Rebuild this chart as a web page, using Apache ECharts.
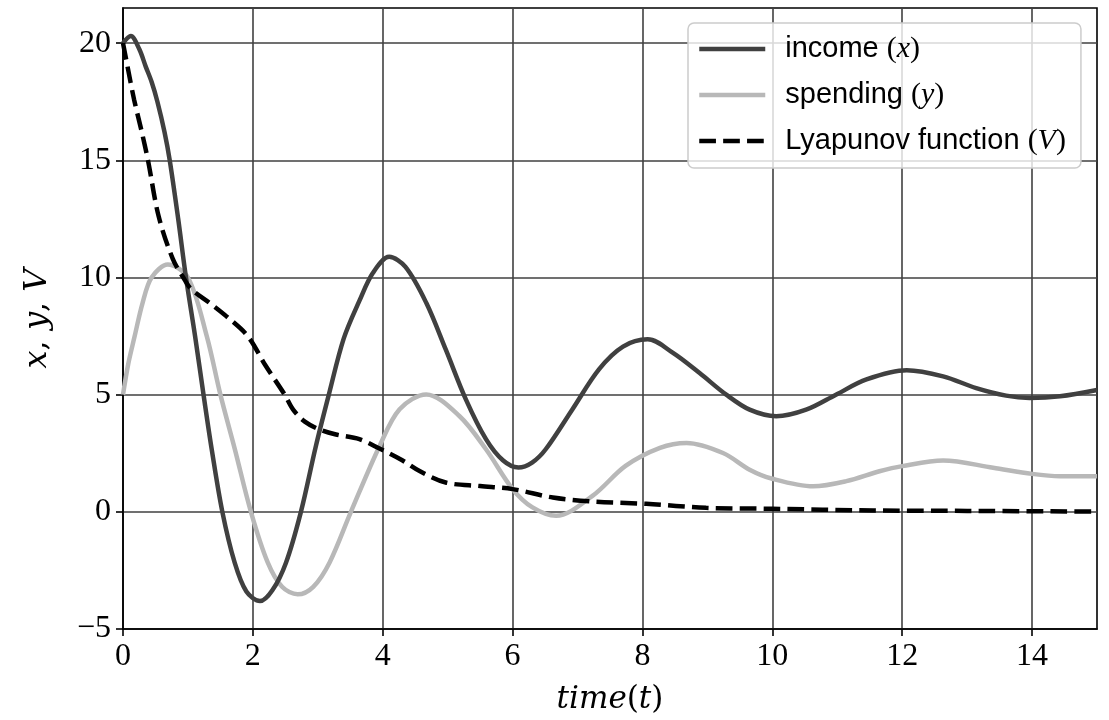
<!DOCTYPE html>
<html>
<head>
<meta charset="utf-8">
<script src="https://cdn.jsdelivr.net/npm/echarts@6/dist/echarts.min.js"></script>
<style>
html,body{margin:0;padding:0;background:#fff;}
#chart{width:1109px;height:720px;}
</style>
</head>
<body>
<div id="chart"></div>
<script>
// ---- data ----
var incomeT = [0, 0.12, 0.25, 0.35, 0.44, 0.53, 0.64, 0.72, 0.85, 0.97, 1.11, 1.24, 1.37, 1.53, 1.72, 1.9, 2.11, 2.3, 2.51, 2.74, 2.97, 3.17, 3.4, 3.64, 3.85, 4.1, 4.35, 4.67, 4.97, 5.28, 5.59, 5.85, 6.09, 6.3, 6.51, 6.92, 7.33, 7.7, 8.08, 8.47, 8.88, 9.29, 9.65, 10.06, 10.52, 10.98, 11.45, 12.07, 12.63, 13.14, 13.6, 13.96, 14.43, 15];
var incomeX = [20.0, 20.3, 19.75, 19.0, 18.35, 17.5, 16.2, 15.0, 12.5, 10.0, 7.5, 5.0, 2.6, 0.0, -2.17, -3.4, -3.81, -3.35, -2.17, 0.0, 2.8, 5.0, 7.4, 9.0, 10.2, 10.88, 10.45, 8.92, 6.93, 4.8, 3.1, 2.2, 1.89, 2.1, 2.67, 4.37, 6.08, 7.05, 7.36, 6.78, 5.92, 5.0, 4.36, 4.08, 4.36, 5.0, 5.65, 6.04, 5.78, 5.28, 4.96, 4.86, 4.93, 5.2];

var spendingT = [0, 0.08, 0.18, 0.3, 0.44, 0.69, 1.0, 1.29, 1.5, 1.72, 1.97, 2.23, 2.45, 2.69, 2.93, 3.18, 3.51, 3.95, 4.26, 4.67, 5.18, 5.59, 6.0, 6.3, 6.67, 7.23, 7.74, 8.27, 8.68, 9.24, 9.65, 10.0, 10.63, 11.14, 11.65, 12.0, 12.63, 13.4, 14.0, 14.43, 15];
var spendingY = [5.0, 6.3, 7.5, 8.9, 10.0, 10.55, 10.0, 7.5, 5.0, 2.7, 0.0, -2.17, -3.2, -3.52, -3.2, -2.17, 0.0, 2.8, 4.38, 5.01, 4.09, 2.67, 0.97, 0.2, -0.17, 0.68, 1.96, 2.73, 2.94, 2.51, 1.8, 1.41, 1.09, 1.31, 1.73, 1.95, 2.19, 1.88, 1.62, 1.52, 1.52];

var lyapT = [0, 0.07, 0.17, 0.29, 0.385, 0.55, 0.77, 0.95, 1.05, 1.33, 1.59, 1.92, 2.2, 2.49, 2.62, 2.8, 3.03, 3.28, 3.64, 3.95, 4.3, 4.56, 4.97, 5.5, 6.0, 6.62, 7.23, 8.06, 8.98, 10.0, 11.55, 13.0, 15];
var lyapV = [20.0, 19.0, 17.6, 16.2, 15.0, 12.6, 10.77, 9.9, 9.5, 8.92, 8.35, 7.5, 6.22, 5.0, 4.36, 3.85, 3.51, 3.3, 3.1, 2.7, 2.2, 1.75, 1.25, 1.1, 0.97, 0.61, 0.44, 0.34, 0.17, 0.13, 0.06, 0.04, 0.01];

var xTicks = [0, 2, 4, 6, 8, 10, 12, 14];
var yTicks = [-5, 0, 5, 10, 15, 20];

var seriesNames = ['income', 'spending', 'Lyapunov function'];
var seriesSymbols = ['x', 'y', 'V'];

function zip(a, b) { return a.map(function (v, i) { return [v, b[i]]; }); }

var chart = echarts.init(document.getElementById('chart'), null, {renderer: 'canvas'});
var serif = '"Liberation Serif", "DejaVu Serif", serif';
var mathSerif = '"DejaVu Serif", "Liberation Serif", serif';
var sans = '"Liberation Sans", "DejaVu Sans", sans-serif';

chart.setOption({
  animation: false,
  backgroundColor: '#ffffff',
  grid: {left: 123, right: 12, top: 8, bottom: 91, show: true, borderColor: '#000', borderWidth: 1.6, backgroundColor: 'transparent'},
  xAxis: {
    type: 'value', min: 0, max: 15, interval: 2,
    name: '{i|time}{p|(}{i|t}{p|)}', nameLocation: 'middle', nameGap: 55,
    nameTextStyle: {rich: {
      i: {fontFamily: mathSerif, fontStyle: 'italic', fontSize: 31, color: '#000'},
      p: {fontFamily: mathSerif, fontSize: 31, color: '#000'}
    }},
    axisLine: {show: true, onZero: false, lineStyle: {color: '#000', width: 1.6}},
    axisTick: {show: true, inside: false, length: 7, customValues: xTicks, lineStyle: {color: '#000', width: 1.6}},
    axisLabel: {show: true, customValues: xTicks, margin: 12, fontFamily: serif, fontSize: 32, color: '#000',
      formatter: function (v) { return String(v); }},
    splitLine: {show: true, lineStyle: {color: '#404040', width: 1.6}}
  },
  yAxis: {
    type: 'value', min: -5, max: 21.5, interval: 5,
    name: '{i|x}{p|, }{i|y}{p|, }{i|V}', nameLocation: 'middle', nameGap: 69, nameRotate: 90,
    nameTextStyle: {rich: {
      i: {fontFamily: mathSerif, fontStyle: 'italic', fontSize: 32, color: '#000'},
      p: {fontFamily: mathSerif, fontSize: 32, color: '#000'}
    }},
    axisLine: {show: true, onZero: false, lineStyle: {color: '#000', width: 1.6}},
    axisTick: {show: true, inside: false, length: 7, customValues: yTicks, lineStyle: {color: '#000', width: 1.6}},
    axisLabel: {show: true, customValues: yTicks, margin: 12, fontFamily: serif, fontSize: 32, color: '#000',
      formatter: function (v) { return v < 0 ? '\u2212' + Math.abs(v) : String(v); }},
    splitLine: {show: true, lineStyle: {color: '#404040', width: 1.6}}
  },
  legend: {
    orient: 'vertical', left: 688, top: 23,
    padding: [11, 15, 12, 9], itemGap: 16, itemWidth: 66, itemHeight: 4,
    backgroundColor: 'rgba(255,255,255,0.8)', borderColor: '#cccccc', borderWidth: 1.5, borderRadius: 6,
    lineStyle: {width: 4.5},
    itemStyle: {color: 'rgba(0,0,0,0)', borderColor: 'rgba(0,0,0,0)', borderWidth: 0, opacity: 0},
    data: seriesNames,
    formatter: function (name) {
      var i = seriesNames.indexOf(name);
      return '{s|' + name + ' }{p|(}{m|' + seriesSymbols[i] + '}{p|)}';
    },
    textStyle: {padding: [0, 0, 0, 15], rich: {
      s: {fontFamily: sans, fontSize: 29, color: '#000'},
      p: {fontFamily: serif, fontSize: 30, color: '#000'},
      m: {fontFamily: serif, fontStyle: 'italic', fontSize: 30, color: '#000'}
    }}
  },
  series: [
    {name: seriesNames[0], type: 'line', data: zip(incomeT, incomeX), showSymbol: false, symbol: 'none', smooth: 0.33,
      lineStyle: {color: '#404040', width: 4.5}, itemStyle: {color: '#404040'}, z: 3},
    {name: seriesNames[1], type: 'line', data: zip(spendingT, spendingY), showSymbol: false, symbol: 'none', smooth: 0.33,
      lineStyle: {color: '#b8b8b8', width: 4.5}, itemStyle: {color: '#b8b8b8'}, z: 2},
    {name: seriesNames[2], type: 'line', data: zip(lyapT, lyapV), showSymbol: false, symbol: 'none', smooth: 0.33,
      lineStyle: {color: '#000000', width: 4.5, type: [16.7, 7.2]}, itemStyle: {color: '#000'}, z: 4}
  ]
});
</script>
</body>
</html>
